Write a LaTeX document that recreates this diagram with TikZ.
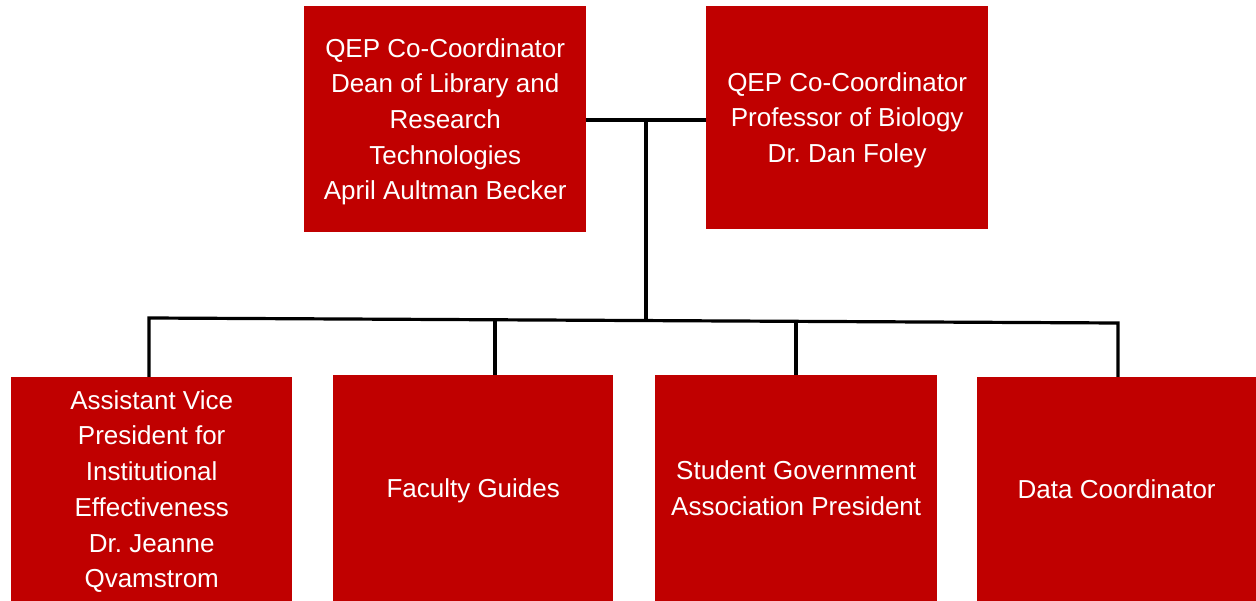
\documentclass[tikz,border=0pt]{standalone}
\usepackage{fontspec}
\setmainfont{Liberation Sans}
\frenchspacing
\definecolor{boxred}{RGB}{192,0,0}
\newcommand{\orgstrut}{\rule[-5.4pt]{0pt}{29.4pt}}
\begin{document}
\begin{tikzpicture}[x=1pt,y=-1pt,
  orgbox/.style={rectangle, fill=boxred, draw=none, inner sep=0pt, text=white,
    align=center, anchor=north west, font=\fontsize{26}{35.7}\selectfont\frenchspacing},
  link/.style={draw=black, line width=3.2pt}]
\useasboundingbox (0,0) rectangle (1256,601);
% top boxes
\node[orgbox, minimum width=282pt, minimum height=226pt] (tl) at (304,6)
  {\orgstrut QEP Co-Coordinator\\Dean of Library and\\Research\\Technologies\\April Aultman Becker\orgstrut};
\node[orgbox, minimum width=282pt, minimum height=223pt] (tr) at (706,6)
  {\orgstrut QEP Co-Coordinator\\Professor of Biology\\Dr. Dan Foley\orgstrut};
% bottom boxes
\node[orgbox, minimum width=281pt, minimum height=224pt] (b1) at (11,377)
  {\orgstrut Assistant Vice\\President for\\Institutional\\Effectiveness\\Dr. Jeanne\\Qvamstrom\orgstrut};
\node[orgbox, minimum width=280pt, minimum height=226pt] (b2) at (333,375)
  {\orgstrut Faculty Guides\orgstrut};
\node[orgbox, minimum width=282pt, minimum height=226pt] (b3) at (655,375)
  {\orgstrut Student Government\\Association President\orgstrut};
\node[orgbox, minimum width=279pt, minimum height=224pt] (b4) at (977,377)
  {\orgstrut Data Coordinator\orgstrut};
% junction and bus coordinates
\coordinate (j) at (646,120);
\coordinate (bj) at (646,320.6);
\coordinate (d1) at (149,318);
\coordinate (d2) at (495,319.8);
\coordinate (d3) at (796,321.3);
\coordinate (d4) at (1118,323);
% connectors
\draw[link] (tl.east |- j) -- (tr.west |- j);
\draw[link] (j) -- (bj);
\draw[link, line join=miter] (d1 |- b1.north) -- (d1) -- (d4) -- (d4 |- b4.north);
\draw[link] (d2) -- (d2 |- b2.north);
\draw[link] (d3) -- (d3 |- b3.north);
\end{tikzpicture}
\end{document}
